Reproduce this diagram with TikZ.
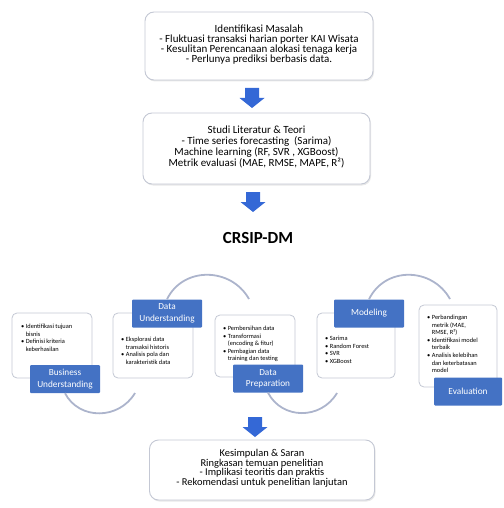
\documentclass[tikz,border=0pt]{standalone}
\usepackage{fontspec}
\setmainfont{Carlito}
\usetikzlibrary{shadows,calc}

\definecolor{phaseblue}{RGB}{68,114,196}
\definecolor{arrowblue}{RGB}{52,104,214}
\definecolor{boxline}{RGB}{196,200,212}
\definecolor{cycleline}{RGB}{172,180,204}

\tikzset{
  mainbox/.style={draw=boxline, line width=0.9bp, rounded corners=9bp, fill=white,
    align=center, inner sep=0,
    drop shadow={shadow xshift=1bp, shadow yshift=-1.5bp, opacity=0.18}},
  stepcard/.style={draw=boxline, line width=0.8bp, rounded corners=5bp, fill=white,
    minimum width=80bp, minimum height=65bp, inner sep=0},
  cardtext/.style={anchor=north west, align=left, inner sep=0,
    font=\fontsize{6.4}{7.6}\selectfont},
  phase/.style={fill=phaseblue, text=white, rounded corners=1bp, minimum width=70bp,
    minimum height=28bp, align=center, inner sep=1bp, font=\fontsize{9.3}{11.5}\selectfont},
  blockdown/.pic={
    \fill[arrowblue] (-7,-10) -- (7,-10) -- (7,0) -- (12.5,0) -- (0,10)
      -- (-12.5,0) -- (-7,0) -- cycle;},
  cyclearc/.style={draw=cycleline, line width=1.8bp},
}
\newcommand{\hang}{\hphantom{\textbullet~}}

\begin{document}
\begin{tikzpicture}[x=1bp,y=-1bp]
      \useasboundingbox (0,0) rectangle (504,508);

      % alur utama
      \node[mainbox, minimum width=228bp, minimum height=68bp, text depth=4bp,
            font=\fontsize{11}{10}\selectfont] (masalah) at (259,46)
        {Identifikasi Masalah\\
         - Fluktuasi transaksi harian porter KAI Wisata\\
         - Kesulitan Perencanaan alokasi tenaga kerja\\
         - Perlunya prediksi berbasis data.};
      \node[mainbox, minimum width=227bp, minimum height=71bp, text depth=4bp,
            font=\fontsize{11}{11}\selectfont] (literatur) at (256.5,148.5)
        {Studi Literatur \& Teori\\
         - Time series forecasting\ \ (Sarima)\\
         Machine learning (RF, SVR , XGBoost)\\
         Metrik evaluasi (MAE, RMSE, MAPE, R²)};
      \node[mainbox, minimum width=225bp, minimum height=60bp, text depth=5bp,
            font=\fontsize{10.5}{9.5}\selectfont] (simpulan) at (262,470)
        {Kesimpulan \& Saran\\
         Ringkasan temuan penelitian\\
         - Implikasi teoritis dan praktis\\
         - Rekomendasi untuk penelitian lanjutan};

      \pic at (252,98) {blockdown};
      \pic at (253,202) {blockdown};
      \pic at (255,427) {blockdown};

      \node[font=\fontsize{17}{19}\selectfont\bfseries] (judul) at (258,238) {CRSIP-DM};

      % kartu tahapan
      \node[stepcard] (bucard) at (52,345.5) {};
      \node[stepcard] (ducard) at (153,345.5) {};
      \node[stepcard, minimum height=62bp] (dpcard) at (255,346) {};
      \node[stepcard, minimum width=78bp] (mocard) at (356,345.5) {};
      \node[stepcard, minimum width=78bp, minimum height=82bp] (evcard) at (458,346) {};

      \node[cardtext] (butext) at (21,324)
        {\textbullet~Identifikasi tujuan\\ \hang bisnis\\
         \textbullet~Definisi kriteria\\ \hang keberhasilan};
      \node[cardtext] (dutext) at (121,337)
        {\textbullet~Eksplorasi data\\ \hang transaksi historis\\
         \textbullet~Analisis pola dan\\ \hang karakteristik data};
      \node[cardtext] (dptext) at (223,326)
        {\textbullet~Pembersihan data\\
         \textbullet~Transformasi\\ \hang (encoding \& fitur)\\
         \textbullet~Pembagian data\\ \hang training dan testing};
      \node[cardtext] (motext) at (325,336)
        {\textbullet~Sarima\\ \textbullet~Random Forest\\
         \textbullet~SVR\\ \textbullet~XGBoost};
      \node[cardtext] (evtext) at (427,315)
        {\textbullet~Perbandingan\\ \hang metrik (MAE,\\ \hang RMSE, R²)\\
         \textbullet~Identifikasi model\\ \hang terbaik\\
         \textbullet~Analisis kelebihan\\ \hang dan keterbatasan\\ \hang model};

      \node[phase] (bulabel) at (65,379) {Business\\Understanding};
      \node[phase] (dulabel) at (167,313.5) {Data\\Understanding};
      \node[phase] (dplabel) at (268,378.5) {Data\\Preparation};
      \node[phase] (molabel) at (369,313.5) {Modeling};
      \node[phase, minimum width=68bp] (evlabel) at (468,391.5) {Evaluation};

      % busur siklus
      \coordinate (buend) at (135,393);
      \coordinate (duend) at (249,299);
      \coordinate (dpend) at (337,393);
      \coordinate (moend) at (450,299);

      \draw[cyclearc] (bulabel.south) .. controls +(14,27) and +(-16,27) .. (buend);
      \draw[cyclearc] (dulabel.north) .. controls +(16,-33) and +(-18,-32) .. (duend);
      \draw[cyclearc] (dplabel.south) .. controls +(14,27) and +(-16,27) .. (dpend);
      \draw[cyclearc] (molabel.north) .. controls +(16,-33) and +(-18,-32) .. (moend);
    \end{tikzpicture}
\end{document}
